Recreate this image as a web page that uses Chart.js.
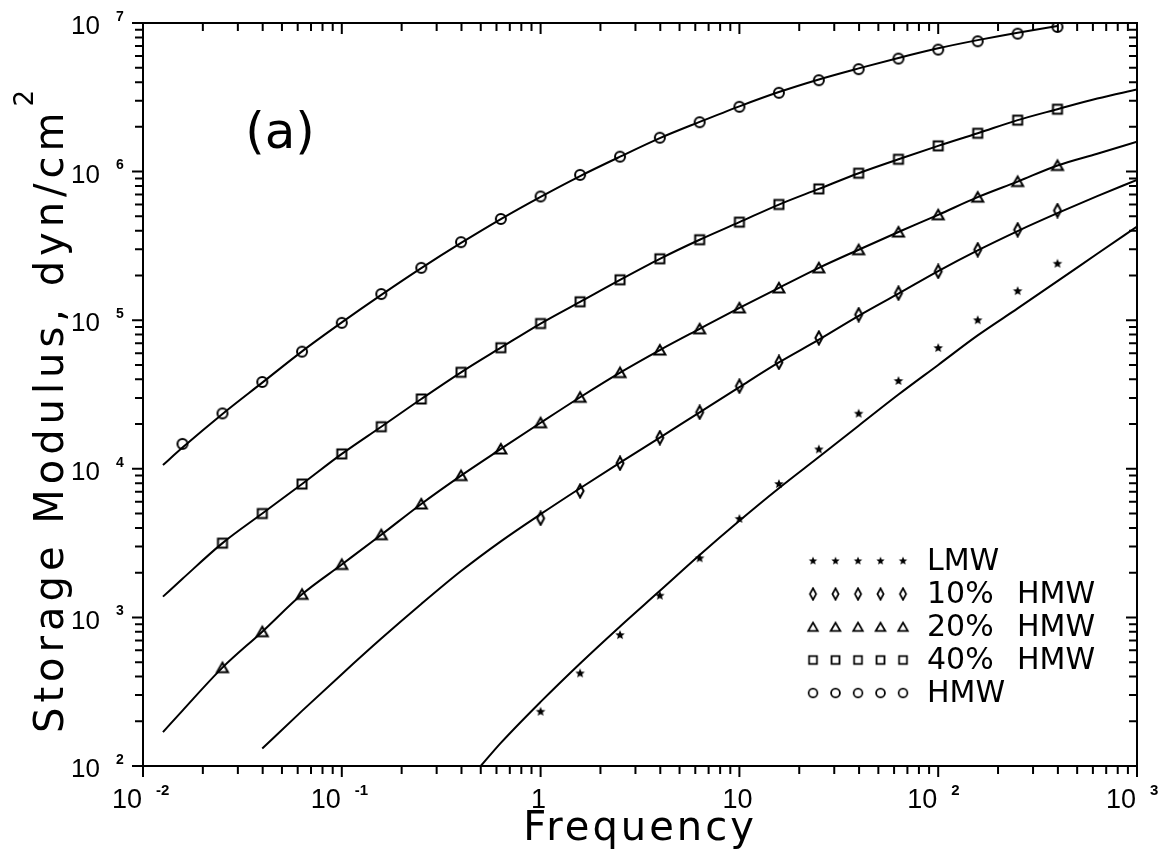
<!DOCTYPE html>
<html>
<head>
<meta charset="utf-8">
<script src="https://cdn.jsdelivr.net/npm/chart.js@4.4.0/dist/chart.umd.min.js"></script>
<style>
    body { margin: 0; background: #fff; }
</style>
</head>
<body>
<canvas id="chart" width="1169" height="863"></canvas>
<script>
// frequencies of the measured points
var freq = [0.0158, 0.0251, 0.0398, 0.0631, 0.1, 0.158, 0.251, 0.398, 0.631, 1, 1.58, 2.51, 3.98, 6.31, 10, 15.8, 25.1, 39.8, 63.1, 100, 158, 251, 398]
// storage modulus, dyn/cm2
var lmw = [null, null, null, null, null, null, null, null, null, 232, 420, 760, 1400, 2500, 4600, 7900, 13500, 23500, 39000, 65000, 100000, 157000, 240000]
var hmw10 = [null, null, null, null, null, null, null, null, null, 4640, 7100, 10900, 16200, 24000, 36000, 52000, 76000, 109000, 152000, 213000, 298000, 406000, 547000]
var hmw20 = [null, 459, 801, 1430, 2270, 3600, 5800, 9000, 13600, 20400, 30300, 44400, 63000, 87500, 121000, 165000, 225000, 298000, 392000, 512000, 673000, 857000, 1100000]
var hmw40 = [null, 3160, 5000, 7900, 12600, 19200, 29500, 44600, 65300, 95000, 133000, 187000, 259000, 348000, 457000, 601000, 765000, 975000, 1210000, 1490000, 1810000, 2220000, 2630000]
var hmw = [14700, 23600, 38400, 61400, 96000, 150000, 225000, 335000, 480000, 680000, 950000, 1260000, 1690000, 2150000, 2730000, 3390000, 4120000, 4890000, 5760000, 6620000, 7530000, 8480000, 9400000]

// fitted curves
var fitFreq = [0.0126, 0.0158, 0.0251, 0.0398, 0.0631, 0.1, 0.158, 0.251, 0.398, 0.631, 1, 1.58, 2.51, 3.98, 6.31, 10, 15.8, 25.1, 39.8, 63.1, 100, 158, 251, 398, 631, 1000]
var fitHmw = [10600, 13900, 23400, 38000, 61700, 96600, 148000, 224000, 331000, 479000, 676000, 933000, 1260000, 1680000, 2160000, 2750000, 3430000, 4170000, 4950000, 5820000, 6760000, 7670000, 8610000, 9550000, null, null]
var fitHmw40 = [1380, 1820, 3160, 5000, 7900, 12600, 19200, 29500, 44600, 65300, 95000, 133000, 187000, 259000, 348000, 457000, 600000, 765000, 975000, 1210000, 1490000, 1810000, 2220000, 2630000, 3100000, 3570000]
var fitHmw20 = [169, 236, 459, 801, 1430, 2270, 3600, 5800, 9000, 13600, 20400, 30300, 44400, 63000, 87500, 121000, 165000, 225000, 298000, 392000, 512000, 673000, 857000, 1100000, 1320000, 1590000]
var fitHmw10 = [null, null, null, 131, 235, 415, 720, 1230, 2050, 3250, 4950, 7400, 11000, 16200, 24000, 35500, 52000, 74000, 107000, 151000, 214000, 295000, 398000, 525000, 684000, 880000]
var fitLmwFreq = [0.5, 0.631, 1, 1.58, 2.51, 3.98, 6.31, 10, 15.8, 25.1, 39.8, 63.1, 100, 158, 251, 398, 631, 1000]
var fitLmw = [100, 143, 270, 490, 870, 1510, 2630, 4470, 7400, 12000, 19500, 31600, 50000, 79000, 120000, 183000, 280000, 427000]

// axis ticks
var xTickVals = [0.01, 0.1, 1, 10, 100, 1000]
var xTickBase = ['10', '10', '1', '10', '10', '10']
var xTickExp = ['-2', '-1', '', '', '2', '3']
var yTickVals = [100, 1000, 10000, 100000, 1000000, 10000000]
var yTickExp = ['2', '3', '4', '5', '6', '7']

var legendNames = ['LMW', '10%', '20%', '40%', 'HMW']

function pairs(xs, ys) {
    var out = []
    for (var i = 0; i < xs.length; i++) {
        if (ys[i] != null) out.push({ x: xs[i], y: ys[i] })
    }
    return out
}

//画点的小图
function marker(kind) {
    var c = document.createElement('canvas')
    c.width = 16
    c.height = 16
    var g = c.getContext('2d')
    g.strokeStyle = '#000'
    g.fillStyle = '#000'
    g.lineWidth = 2
    g.beginPath()
    if (kind == 'circle') {
        g.arc(8, 8, 5, 0, Math.PI * 2)
        g.stroke()
    } else if (kind == 'square') {
        g.rect(3.5, 3.5, 9, 9)
        g.stroke()
    } else if (kind == 'triangle') {
        g.moveTo(8, 3)
        g.lineTo(13.5, 12.5)
        g.lineTo(2.5, 12.5)
        g.closePath()
        g.stroke()
    } else if (kind == 'diamond') {
        g.moveTo(8, 1.5)
        g.lineTo(11.5, 8)
        g.lineTo(8, 14.5)
        g.lineTo(4.5, 8)
        g.closePath()
        g.stroke()
    } else {
        for (var i = 0; i < 10; i++) {
            var r = i % 2 == 0 ? 5 : 2.2
            var a = -Math.PI / 2 + i * Math.PI / 5
            g.lineTo(8 + r * Math.cos(a), 8 + r * Math.sin(a))
        }
        g.closePath()
        g.fill()
    }
    return c
}

var mStar = marker('star')
var mDiamond = marker('diamond')
var mTriangle = marker('triangle')
var mSquare = marker('square')
var mCircle = marker('circle')
var legendMarkers = [mStar, mDiamond, mTriangle, mSquare, mCircle]

function pointSet(data, img) {
    return {
        data: pairs(freq, data),
        showLine: false,
        pointStyle: img,
        pointRadius: 6,
        pointHoverRadius: 6
    }
}

function lineSet(xs, data) {
    return {
        data: pairs(xs, data),
        showLine: true,
        borderColor: '#000',
        borderWidth: 2,
        pointRadius: 0,
        cubicInterpolationMode: 'monotone'
    }
}

function minorValues(lo, hi) {
    var v = []
    for (var d = lo; d < hi; d++) {
        for (var m = 1; m < 10; m++) {
            v.push({ v: Number((m * Math.pow(10, d)).toPrecision(6)), major: m == 1 })
        }
    }
    v.push({ v: Math.pow(10, hi), major: true })
    return v
}

var framePlugin = {
    id: 'frame',
    afterDraw: function (chart) {
        var ctx = chart.ctx
        var a = chart.chartArea
        var xs = chart.scales.x
        var ys = chart.scales.y
        ctx.save()
        ctx.strokeStyle = '#000'
        ctx.fillStyle = '#000'
        ctx.lineWidth = 2
        ctx.strokeRect(a.left, a.top, a.right - a.left, a.bottom - a.top)

        // ticks: left/bottom outward, top/right inward
        minorValues(-2, 3).forEach(function (t) {
            var px = xs.getPixelForValue(t.v)
            var len = t.major ? 11 : 8
            ctx.beginPath()
            ctx.moveTo(px, a.bottom)
            ctx.lineTo(px, a.bottom + len)
            ctx.moveTo(px, a.top)
            ctx.lineTo(px, a.top + len)
            ctx.stroke()
        })
        minorValues(2, 7).forEach(function (t) {
            var py = ys.getPixelForValue(t.v)
            var len = t.major ? 11 : 8
            ctx.beginPath()
            ctx.moveTo(a.left - len, py)
            ctx.lineTo(a.left, py)
            ctx.moveTo(a.right - len, py)
            ctx.lineTo(a.right, py)
            ctx.stroke()
        })

        // x tick labels
        ctx.textBaseline = 'middle'
        xTickVals.forEach(function (v, i) {
            var px = xs.getPixelForValue(v)
            ctx.font = '27px "Liberation Sans"'
            if (xTickExp[i] == '') {
                ctx.textAlign = 'center'
                ctx.fillText(xTickBase[i], px - 2, a.bottom + 35)
            } else {
                ctx.textAlign = 'right'
                ctx.fillText(xTickBase[i], px - 1, a.bottom + 35)
                ctx.textAlign = 'left'
                ctx.font = 'bold 15px "Liberation Sans"'
                ctx.fillText(xTickExp[i], px + 13, a.bottom + 25)
            }
        })
        // y tick labels
        yTickVals.forEach(function (v, i) {
            var py = ys.getPixelForValue(v)
            ctx.font = '26px "Liberation Sans"'
            ctx.textAlign = 'right'
            ctx.fillText('10', 100, py + 4)
            ctx.textAlign = 'left'
            ctx.font = 'bold 14px "Liberation Sans"'
            ctx.fillText(yTickExp[i], 116, py - 6)
        })

        // axis titles
        ctx.font = '40px "DejaVu Sans"'
        ctx.letterSpacing = '3px'
        ctx.textAlign = 'center'
        ctx.fillText('Frequency', (a.left + a.right) / 2, 830)

        ctx.save()
        ctx.translate(63, 733)
        ctx.rotate(-Math.PI / 2)
        ctx.textAlign = 'left'
        ctx.textBaseline = 'alphabetic'
        ctx.letterSpacing = '5px'
        var title = 'Storage Modulus, dyn/cm'
        ctx.fillText(title, 0, 0)
        var w = ctx.measureText(title).width
        ctx.font = '26px "DejaVu Sans"'
        ctx.letterSpacing = '0px'
        ctx.fillText('2', w + 1, -30)
        ctx.restore()

        // panel label
        ctx.letterSpacing = '0px'
        ctx.font = '50px "DejaVu Sans"'
        ctx.textAlign = 'center'
        ctx.textBaseline = 'middle'
        ctx.fillText('(a)', 280, 135)

        // legend
        var rowsY = [561, 594, 627, 660, 693]
        legendNames.forEach(function (name, i) {
            for (var k = 0; k < 5; k++) {
                ctx.drawImage(legendMarkers[i], 813 + k * 22.5 - 7, rowsY[i] - 7, 14, 14)
            }
            ctx.font = '30px "DejaVu Sans"'
            ctx.textAlign = 'left'
            ctx.textBaseline = 'middle'
            ctx.fillText(name, 927, rowsY[i] + 1)
            if (i >= 1 && i <= 3) ctx.fillText('HMW', 1017, rowsY[i] + 1)
        })
        ctx.restore()
    }
}

var ctx = document.getElementById('chart').getContext('2d')
var chart = new Chart(ctx, {
    type: 'scatter',
    data: {
        datasets: [
            lineSet(fitLmwFreq, fitLmw),
            lineSet(fitFreq, fitHmw10),
            lineSet(fitFreq, fitHmw20),
            lineSet(fitFreq, fitHmw40),
            lineSet(fitFreq, fitHmw),
            pointSet(lmw, mStar),
            pointSet(hmw10, mDiamond),
            pointSet(hmw20, mTriangle),
            pointSet(hmw40, mSquare),
            pointSet(hmw, mCircle)
        ]
    },
    options: {
        responsive: false,
        animation: false,
        layout: { padding: { left: 143, right: 32, top: 23, bottom: 97 } },
        plugins: { legend: { display: false }, tooltip: { enabled: false } },
        scales: {
            x: { type: 'logarithmic', min: 0.01, max: 1000, display: false },
            y: { type: 'logarithmic', min: 100, max: 10000000, display: false }
        }
    },
    plugins: [framePlugin]
})
</script>
</body>
</html>
